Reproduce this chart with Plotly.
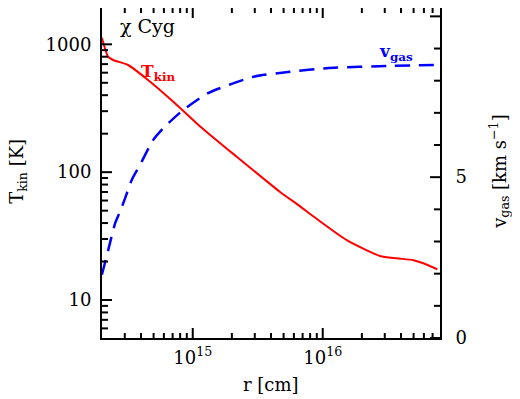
import math
import plotly.graph_objects as go

# --- data ---
r_tkin = [2.0e14, 2.12e14, 2.23e14, 2.44e14, 3.18e14, 4.53e14, 7.3e14, 1.14e15,
          2.18e15, 4.7e15, 6.7e15, 8.5e15, 1.53e16, 2.76e16, 3.71e16, 4.98e16,
          5.94e16, 7.6e16]
tkin = [1126, 918, 800, 754, 689, 526, 346, 228,
        132, 70, 54, 45, 29.4, 22.1, 21.2, 20.5,
        19.4, 17.4]

r_vgas = [2.0e14, 2.24e14, 2.53e14, 2.76e14, 3.02e14, 3.4e14, 3.93e14, 4.97e14,
          6.1e14, 8.17e14, 1.31e15, 2.93e15, 5.6e15, 1.07e16, 3.47e16, 7.9e16]
vgas = [1.97, 2.74, 3.57, 3.93, 4.35, 4.92, 5.38, 6.16,
        6.57, 7.04, 7.61, 8.12, 8.28, 8.39, 8.46, 8.49]

x_major = [1e15, 1e16]
x_major_text = ["10<sup>15</sup>", "10<sup>16</sup>"]
x_minor = [m * 10 ** e for e in (14, 15, 16) for m in range(2, 10)]
y_major = [10, 100, 1000]
y_major_text = ["10", "100", "1000"]
y_minor = [m * 10 ** e for e in (0, 1, 2, 3) for m in range(2, 10)]
v_major = [0, 5, 10]
v_minor = [1, 2, 3, 4, 6, 7, 8, 9]

FONT = "DejaVu Serif"
W, H = 512, 391
ML, MR, MT, MB = 94, 80, 0, 61
PW, PH = W - ML - MR, H - MT - MB
XR = [14.302, 16.902]
YR = [0.703, 3.284]
VR = [0, 10.26]

fig = go.Figure()
fig.add_trace(go.Scatter(x=r_tkin, y=tkin, mode="lines",
                         line=dict(color="#ff0000", width=2, shape="spline", smoothing=0.6)))
fig.add_trace(go.Scatter(x=r_vgas, y=vgas, mode="lines", yaxis="y2",
                         line=dict(color="#0000ff", width=2.5, dash="15px,9px",
                                   shape="spline", smoothing=0.6)))


# tick marks: line traces on a separate, hidden subplot stacked on top of the
# main one (same domain and ranges), lengths given in pixels
def px_x(n):
    return n * (XR[1] - XR[0]) / PW


def px_y(n):
    return n * (YR[1] - YR[0]) / PH


def v_to_y(v):
    # position of a v_gas tick on the hidden log y axis of the tick subplot
    return 10 ** (YR[0] + (v - VR[0]) / (VR[1] - VR[0]) * (YR[1] - YR[0]))


def ticks_x(vals, ln, top=False):
    xs, ys = [], []
    for v in vals:
        if not XR[0] < math.log10(v) < XR[1]:
            continue
        if top:
            y0, y1 = 10 ** YR[1], 10 ** (YR[1] - px_y(ln))
        else:
            y0, y1 = 10 ** YR[0], 10 ** (YR[0] + px_y(ln))
        xs += [v, v, None]
        ys += [y0, y1, None]
    return xs, ys


def ticks_left(vals, ln):
    xs, ys = [], []
    for v in vals:
        if not YR[0] < math.log10(v) < YR[1]:
            continue
        xs += [10 ** XR[0], 10 ** (XR[0] + px_x(ln)), None]
        ys += [v, v, None]
    return xs, ys


def ticks_right(vals, ln):
    xs, ys = [], []
    for v in vals:
        if not VR[0] <= v < VR[1]:
            continue
        y = v_to_y(v)
        xs += [10 ** (XR[1] - px_x(ln)), 10 ** XR[1], None]
        ys += [y, y, None]
    return xs, ys


tline = dict(color="black", width=2)
for xs, ys in (ticks_x(x_major, 10), ticks_x(x_minor, 5),
               ticks_x(x_major, 10, top=True), ticks_x(x_minor, 5, top=True),
               ticks_left(y_major, 10), ticks_left(y_minor, 6),
               ticks_right(v_major, 10), ticks_right(v_minor, 6)):
    fig.add_trace(go.Scatter(x=xs, y=ys, xaxis="x3", yaxis="y5", mode="lines",
                             line=tline, hoverinfo="skip", cliponaxis=False))

ax = dict(ticks="", showgrid=False, zeroline=False, automargin=False,
          showline=True, linewidth=2, linecolor="black")

fig.update_layout(
    width=W, height=H,
    margin=dict(l=ML, r=MR, t=MT, b=MB),
    paper_bgcolor="white", plot_bgcolor="rgba(0,0,0,0)",
    showlegend=False,
    font=dict(family=FONT, size=18, color="black"),
    xaxis=dict(type="log", range=XR, tickvals=x_major, ticktext=x_major_text,
               mirror=True, ticklabelstandoff=2, **ax),
    yaxis=dict(type="log", range=YR, tickvals=y_major, ticktext=y_major_text,
               ticklabelstandoff=5, **ax),
    yaxis2=dict(range=VR, overlaying="y", anchor="x", side="right",
                tickvals=v_major, ticklabelstandoff=10, **ax),
    xaxis3=dict(type="log", range=XR, domain=[0, 1], anchor="y5", visible=False),
    yaxis5=dict(type="log", range=YR, domain=[0, 1], anchor="x3", visible=False),
)

mid = dict(xref="paper", yref="paper", xanchor="center", yanchor="middle", showarrow=False)

# axis titles
fig.add_annotation(x=-0.247, y=0.505, textangle=-90, text="T<sub>kin</sub> [K]", **mid)
fig.add_annotation(x=1.176, y=0.505, textangle=-90,
                   text="v<sub>gas</sub> [km s<sup>\u22121</sup>]", **mid)
fig.add_annotation(x=0.5, y=-0.142, text="r [cm]", **mid)

# labels inside the plot
fig.add_annotation(x=0.136, y=0.945, text="\u03c7 Cyg",
                   font=dict(size=19, family=FONT), **mid)
fig.add_annotation(x=0.166, y=0.806, text="<b>T<sub>kin</sub></b>",
                   font=dict(size=17, family=FONT, color="#ff0000"), **mid)
fig.add_annotation(x=0.870, y=0.864, text="<b>v<sub>gas</sub></b>",
                   font=dict(size=17, family=FONT, color="#0000ff"), **mid)

fig.write_html("out.html")
